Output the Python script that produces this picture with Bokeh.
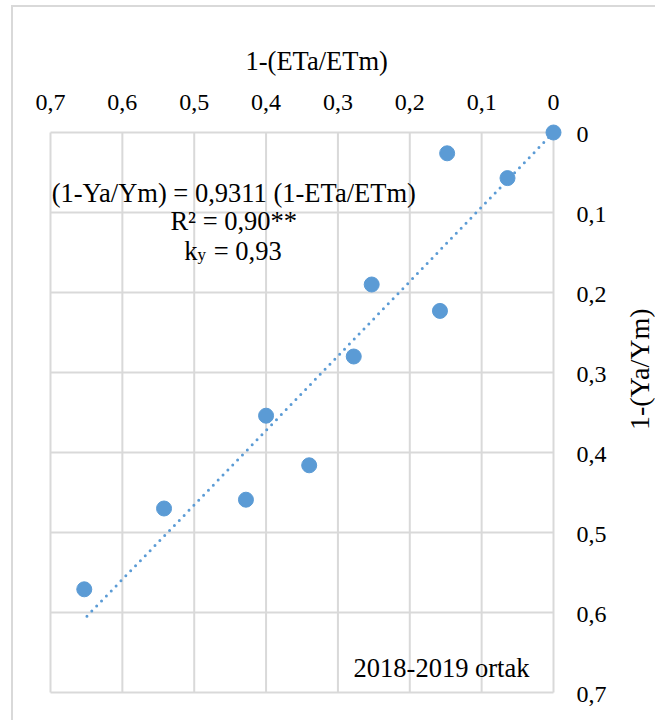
import math
from bokeh.plotting import figure
from bokeh.models import Range1d, Label, Column
from bokeh.embed import file_html
from bokeh.resources import INLINE

# Relative evapotranspiration deficit 1-(ETa/ETm) and relative yield decrease 1-(Ya/Ym)
eta_deficit = [0.0, 0.148, 0.064, 0.253, 0.158, 0.278, 0.400, 0.340, 0.428, 0.542, 0.653]
yield_decrease = [0.0, 0.026, 0.057, 0.190, 0.223, 0.280, 0.354, 0.416, 0.459, 0.470, 0.571]

# Fitted yield response (line through origin)
slope = 0.9311
equation_text = "(1-Ya/Ym) = 0,9311 (1-ETa/ETm)"
r2_text = "R² = 0,90**"
ky_value_text = "= 0,93"
panel_text = "2018-2019 ortak"
x_title = "1-(ETa/ETm)"
y_title = "1-(Ya/Ym)"

tick_values = [0.0, 0.1, 0.2, 0.3, 0.4, 0.5, 0.6, 0.7]
tick_labels = ["0", "0,1", "0,2", "0,3", "0,4", "0,5", "0,6", "0,7"]

FONT = "Liberation Serif"
BLUE = "#5B9BD5"
GRID = "#d9d9d9"

# Canvas and plot-area geometry (px); the scales span the whole canvas so that
# the reversed axes (0 at top-right) and their labels share one coordinate system.
W, H = 642, 713
AREA_L, AREA_R, AREA_T, AREA_B = 37, 540, 125, 685
X_LEFT, X_RIGHT = 0.7, 0.0      # values at plot-area left / right
Y_TOP, Y_BOTTOM = 0.0, 0.7      # values at plot-area top / bottom
sx = (AREA_R - AREA_L) / (X_RIGHT - X_LEFT)
sy = (AREA_B - AREA_T) / (Y_BOTTOM - Y_TOP)
x_range = Range1d(X_LEFT - AREA_L / sx, X_LEFT + (W - AREA_L) / sx)
y_range = Range1d(Y_TOP + (H - AREA_T) / sy, Y_TOP - AREA_T / sy)

p = figure(
    width=W, height=H, x_range=x_range, y_range=y_range,
    x_axis_location=None, y_axis_location=None,
    output_backend="svg", toolbar_location=None,
    min_border=0, background_fill_color="white", border_fill_color="white",
)
p.outline_line_color = None
p.xgrid.visible = False
p.ygrid.visible = False

# grid lines (plot-area border included)
p.segment(x0=tick_values, y0=[Y_TOP] * len(tick_values),
          x1=tick_values, y1=[Y_BOTTOM] * len(tick_values),
          line_color=GRID, line_width=2)
p.segment(x0=[X_LEFT] * len(tick_values), y0=tick_values,
          x1=[X_RIGHT] * len(tick_values), y1=tick_values,
          line_color=GRID, line_width=2)

# trend line from the fitted slope
line_x = [0.0, max(eta_deficit)]
line_y = [slope * v for v in line_x]
p.line(line_x, line_y, line_color=BLUE, line_width=3, line_dash="0 7", line_cap="round")

p.scatter(eta_deficit, yield_decrease, size=15, fill_color=BLUE, line_color=BLUE)

def add_text(x, y, text, size="26.5px", align="center", baseline="middle", angle=0.0):
    p.add_layout(Label(x=x, y=y, text=text, text_font=FONT, text_font_size=size,
                       text_align=align, text_baseline=baseline, text_color="black",
                       angle=angle))

# tick labels: top axis (reversed) and right axis (reversed)
top_label_y = Y_TOP - 30.5 / sy
right_label_x = X_RIGHT + 23 / sx
for t, lab in zip(tick_values, tick_labels):
    add_text(t, top_label_y, lab, size="24px")
    add_text(right_label_x, t + 2 / sy, lab, size="24px", align="left")

# axis titles
add_text(0.3296, -0.0888, x_title)
add_text(-0.1195, 0.296, y_title, size="28px", angle=math.pi / 2)

# regression annotation
add_text(0.445, 0.075, equation_text)
add_text(0.445, 0.110, r2_text)
add_text(0.4955, 0.1475, "k", align="right", baseline="alphabetic")
add_text(0.4955, 0.152, "y", size="17px", align="left", baseline="alphabetic")
add_text(0.4729, 0.1475, ky_value_text, align="left", baseline="alphabetic")
add_text(0.1558, 0.669, panel_text)

layout = Column(
    children=[p], margin=(5, 0, 0, 11),
    styles={"border-left": f"2px solid {GRID}", "border-top": f"2px solid {GRID}"},
)

open("out.html", "w").write(file_html(layout, INLINE))
